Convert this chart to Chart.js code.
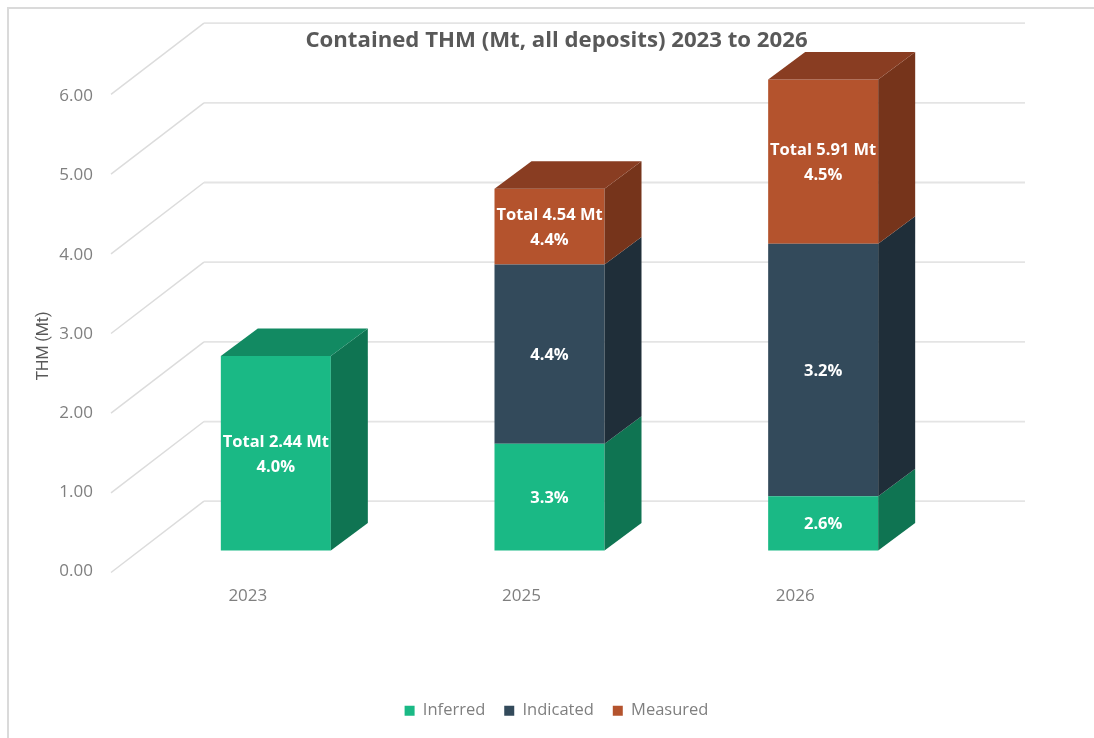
<!DOCTYPE html>
<html>
<head>
<meta charset="utf-8">
<style>
  html, body { margin: 0; background: #fff; }
  #frame { position: absolute; left: 7px; top: 7px; width: 1087px; height: 731px; border-left: 2px solid #dadada; border-top: 2px solid #dadada; box-sizing: border-box; }
  canvas { position: absolute; left: 0; top: 0; }
</style>
<script src="https://cdn.jsdelivr.net/npm/chart.js@4"></script>
</head>
<body>
<div id="frame"></div>
<canvas id="chart" width="1094" height="738"></canvas>
<script>
const years = ['2023', '2025', '2026'];
const inferred = [2.44, 1.34, 0.68];
const indicated = [0, 2.25, 3.17];
const measured = [0, 0.95, 2.06];
const tickValues = [0, 1, 2, 3, 4, 5, 6];

const inferredLabels = [['Total 2.44 Mt', '4.0%'], ['3.3%'], ['2.6%']];
const indicatedLabels = [[], ['4.4%'], ['3.2%']];
const measuredLabels = [[], ['Total 4.54 Mt', '4.4%'], ['Total 5.91 Mt', '4.5%']];

const FONT = '"Open Sans", sans-serif';
const GREY = '#7f7f7f';

// side and top shades of the fake 3D boxes, same order as the datasets
const shades = [
  { side: '#0f7452', top: '#128a62' },
  { side: '#1f2e39', top: '#26394a' },
  { side: '#76341b', top: '#893d22' }
];
const segmentLabels = [inferredLabels, indicatedLabels, measuredLabels];

const depth = { x: 37, y: -27.5 };   // bar depth
const wall = { x: 93, front: 22, back: -49.3 };   // gridline offsets from the bar plane

const box3d = {
  id: 'box3d',
  beforeDatasetsDraw(chart) {
    const ctx = chart.ctx;
    const y = chart.scales.y;
    ctx.save();
    tickValues.forEach(v => {
      const py = y.getPixelForValue(v);
      ctx.beginPath();
      ctx.moveTo(111, py + wall.front);
      ctx.lineTo(111 + wall.x, py + wall.back);
      ctx.strokeStyle = '#dcdcdc';
      ctx.lineWidth = 1.5;
      ctx.stroke();
      ctx.beginPath();
      ctx.moveTo(111 + wall.x, py + wall.back);
      ctx.lineTo(1025, py + wall.back);
      ctx.strokeStyle = '#e4e4e4';
      ctx.lineWidth = 1.8;
      ctx.stroke();
    });
    ctx.restore();
  },
  afterDatasetsDraw(chart) {
    const ctx = chart.ctx;
    ctx.save();
    years.forEach((yr, i) => {
      let topSeg = -1;
      chart.data.datasets.forEach((ds, d) => { if (ds.data[i] > 0) topSeg = d; });
      chart.data.datasets.forEach((ds, d) => {
        if (!(ds.data[i] > 0)) return;
        const bar = chart.getDatasetMeta(d).data[i];
        const left = bar.x - bar.width / 2;
        const right = bar.x + bar.width / 2;
        ctx.fillStyle = shades[d].side;
        ctx.beginPath();
        ctx.moveTo(right, bar.base);
        ctx.lineTo(right + depth.x, bar.base + depth.y);
        ctx.lineTo(right + depth.x, bar.y + depth.y);
        ctx.lineTo(right, bar.y);
        ctx.closePath();
        ctx.fill();
        if (d === topSeg) {
          ctx.fillStyle = shades[d].top;
          ctx.beginPath();
          ctx.moveTo(left, bar.y);
          ctx.lineTo(left + depth.x, bar.y + depth.y);
          ctx.lineTo(right + depth.x, bar.y + depth.y);
          ctx.lineTo(right, bar.y);
          ctx.closePath();
          ctx.fill();
        }
        // labels inside the front face
        const lines = segmentLabels[d][i];
        const cy = (bar.y + bar.base) / 2 + 1;
        ctx.fillStyle = '#fff';
        ctx.font = 'bold 16.5px ' + FONT;
        ctx.textAlign = 'center';
        ctx.textBaseline = 'middle';
        lines.forEach((t, n) => {
          ctx.fillText(t, bar.x, cy + (n - (lines.length - 1) / 2) * 25);
        });
      });
    });
    // axis title sits lower than the native one could
    ctx.translate(44, 346);
    ctx.rotate(-Math.PI / 2);
    ctx.fillStyle = '#595959';
    ctx.font = '16px Roboto, sans-serif';
    ctx.textAlign = 'center';
    ctx.textBaseline = 'middle';
    ctx.fillText('THM (Mt)', 0, 0);
    ctx.restore();
  }
};

new Chart(document.getElementById('chart'), {
  type: 'bar',
  data: {
    labels: years,
    datasets: [
      { label: 'Inferred', data: inferred, backgroundColor: '#1ab985', yAxisID: 'y' },
      { label: 'Indicated', data: indicated, backgroundColor: '#334a5b', yAxisID: 'y' },
      { label: 'Measured', data: measured, backgroundColor: '#b4532d', yAxisID: 'y' }
    ]
  },
  plugins: [box3d],
  options: {
    responsive: false,
    animation: false,
    layout: { padding: { left: 19, right: 0, top: 0, bottom: 9 } },
    datasets: { bar: { barPercentage: 0.402, categoryPercentage: 1, borderWidth: 0 } },
    plugins: {
      tooltip: { enabled: false },
      title: {
        display: true,
        text: 'Contained THM (Mt, all deposits) 2023 to 2026',
        color: '#595959',
        font: { family: FONT, size: 22.2, weight: 'bold', lineHeight: 1.2 },
        padding: { top: 27, bottom: 9 }
      },
      legend: {
        position: 'bottom',
        labels: { boxWidth: 10, boxHeight: 10, color: GREY, font: { family: FONT, size: 16.5 }, padding: 19 }
      }
    },
    scales: {
      x: {
        stacked: true,
        grid: { display: false },
        border: { display: false },
        ticks: { color: GREY, font: { family: FONT, size: 17 }, padding: 6, labelOffset: -28, maxRotation: 0 },
        afterFit(scale) { scale.height = 112; }
      },
      // scale the bars sit on, keeps the right margin
      y: {
        stacked: true,
        position: 'right',
        min: -0.2635,
        max: 6.123,
        grid: { display: false },
        border: { display: false },
        ticks: { display: false },
        afterFit(scale) { scale.width = 134; }
      },
      // front edge of the floor, only here for the tick labels
      yLabels: {
        type: 'linear',
        position: 'left',
        min: 0,
        max: 6.427,
        grid: { display: false, drawTicks: false },
        border: { display: false },
        afterBuildTicks(scale) { scale.ticks = tickValues.map(v => ({ value: v })); },
        ticks: {
          color: GREY,
          font: { family: FONT, size: 17 },
          padding: 46,
          callback: v => v.toFixed(2)
        },
        afterFit(scale) { scale.width = 120; }
      }
    }
  }
});
</script>
</body>
</html>
